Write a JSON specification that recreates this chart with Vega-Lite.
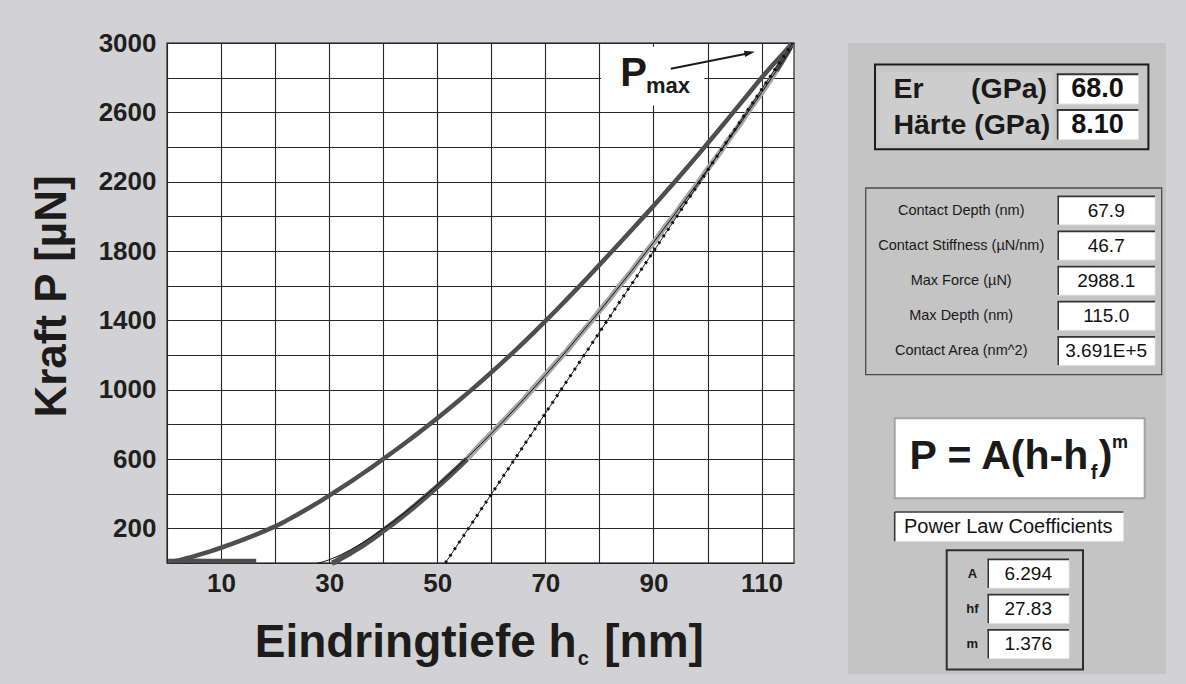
{
  "$schema": "https://vega.github.io/schema/vega-lite/v6.json",
  "background": "#d2d1d4",
  "padding": {"left": 29, "top": 29, "right": 20, "bottom": 10},
  "bounds": "flush",
  "spacing": 54,
  "config": {"font": "Liberation Sans", "view": {"stroke": null}},
  "datasets": {
    "loading": [
      {"h": 1.5, "P": 10}, {"h": 2, "P": 14}, {"h": 4, "P": 30}, {"h": 6, "P": 48}, {"h": 8, "P": 67},
      {"h": 10, "P": 88}, {"h": 12, "P": 110}, {"h": 14, "P": 133}, {"h": 16, "P": 158}, {"h": 18, "P": 184},
      {"h": 20, "P": 211}, {"h": 22, "P": 243}, {"h": 24, "P": 277}, {"h": 26, "P": 313}, {"h": 28, "P": 350},
      {"h": 30, "P": 389}, {"h": 32, "P": 429}, {"h": 34, "P": 470}, {"h": 36, "P": 512}, {"h": 38, "P": 555},
      {"h": 40, "P": 600}, {"h": 42, "P": 645}, {"h": 44, "P": 691}, {"h": 46, "P": 738}, {"h": 48, "P": 786},
      {"h": 50, "P": 835}, {"h": 52, "P": 885}, {"h": 54, "P": 937}, {"h": 56, "P": 990}, {"h": 58, "P": 1044},
      {"h": 60, "P": 1100}, {"h": 62, "P": 1156}, {"h": 64, "P": 1214}, {"h": 66, "P": 1273}, {"h": 68, "P": 1334},
      {"h": 70, "P": 1395}, {"h": 72, "P": 1458}, {"h": 74, "P": 1522}, {"h": 76, "P": 1587}, {"h": 78, "P": 1653},
      {"h": 80, "P": 1720}, {"h": 82, "P": 1787}, {"h": 84, "P": 1855}, {"h": 86, "P": 1923}, {"h": 88, "P": 1991},
      {"h": 90, "P": 2060}, {"h": 92, "P": 2130}, {"h": 94, "P": 2201}, {"h": 96, "P": 2273}, {"h": 98, "P": 2346},
      {"h": 100, "P": 2420}, {"h": 102, "P": 2495}, {"h": 104, "P": 2571}, {"h": 106, "P": 2647}, {"h": 108, "P": 2723},
      {"h": 110, "P": 2800}, {"h": 112, "P": 2872}, {"h": 114, "P": 2940}, {"h": 115.6, "P": 2996}
    ],
    "hold": [
      {"h": 0.2, "P": 12}, {"h": 4, "P": 13}, {"h": 8, "P": 12}, {"h": 12, "P": 12}, {"h": 16.5, "P": 12}
    ],
    "unloading": [
      {"seg": "below", "h": 30.5, "P": 0}, {"seg": "below", "h": 31, "P": 5}, {"seg": "below", "h": 32, "P": 24},
      {"seg": "below", "h": 34, "P": 59}, {"seg": "below", "h": 36, "P": 97}, {"seg": "below", "h": 38, "P": 140},
      {"seg": "below", "h": 40, "P": 186}, {"seg": "below", "h": 42, "P": 232}, {"seg": "below", "h": 44, "P": 281},
      {"seg": "below", "h": 46, "P": 332}, {"seg": "below", "h": 48, "P": 386}, {"seg": "below", "h": 50, "P": 440},
      {"seg": "below", "h": 52, "P": 497}, {"seg": "below", "h": 54, "P": 555}, {"seg": "below", "h": 55.5, "P": 600},
      {"seg": "fitted", "h": 55.5, "P": 600}, {"seg": "fitted", "h": 56, "P": 617}, {"seg": "fitted", "h": 58, "P": 684},
      {"seg": "fitted", "h": 60, "P": 748}, {"seg": "fitted", "h": 62, "P": 812}, {"seg": "fitted", "h": 64, "P": 878},
      {"seg": "fitted", "h": 66, "P": 944}, {"seg": "fitted", "h": 68, "P": 1016}, {"seg": "fitted", "h": 70, "P": 1085},
      {"seg": "fitted", "h": 72, "P": 1157}, {"seg": "fitted", "h": 74, "P": 1226}, {"seg": "fitted", "h": 76, "P": 1303},
      {"seg": "fitted", "h": 78, "P": 1375}, {"seg": "fitted", "h": 80, "P": 1454}, {"seg": "fitted", "h": 82, "P": 1528},
      {"seg": "fitted", "h": 84, "P": 1610}, {"seg": "fitted", "h": 86, "P": 1686}, {"seg": "fitted", "h": 88, "P": 1770},
      {"seg": "fitted", "h": 90, "P": 1847}, {"seg": "fitted", "h": 92, "P": 1934}, {"seg": "fitted", "h": 94, "P": 2013},
      {"seg": "fitted", "h": 96, "P": 2101}, {"seg": "fitted", "h": 98, "P": 2182}, {"seg": "fitted", "h": 100, "P": 2272},
      {"seg": "fitted", "h": 102, "P": 2356}, {"seg": "fitted", "h": 104, "P": 2447}, {"seg": "fitted", "h": 106, "P": 2532},
      {"seg": "fitted", "h": 108, "P": 2626}, {"seg": "fitted", "h": 110, "P": 2712}, {"seg": "fitted", "h": 112, "P": 2806},
      {"seg": "fitted", "h": 112.7, "P": 2840},
      {"seg": "above", "h": 112.7, "P": 2840}, {"seg": "above", "h": 114, "P": 2905}, {"seg": "above", "h": 115, "P": 2958},
      {"seg": "above", "h": 115.6, "P": 2994}
    ],
    "fit": [
      {"h": 27.83, "P": 0}, {"h": 28, "P": 0.6}, {"h": 29, "P": 7.8}, {"h": 30, "P": 18.3}, {"h": 32, "P": 44.9},
      {"h": 34, "P": 77}, {"h": 36, "P": 113.3}, {"h": 38, "P": 153.1}, {"h": 40, "P": 196}, {"h": 42, "P": 241.7},
      {"h": 44, "P": 289.8}, {"h": 46, "P": 340.3}, {"h": 48, "P": 392.9}, {"h": 50, "P": 447.4}, {"h": 52, "P": 503.8},
      {"h": 54, "P": 562.1}, {"h": 56, "P": 622}, {"h": 58, "P": 683.6}, {"h": 60, "P": 747}, {"h": 62, "P": 811},
      {"h": 64, "P": 877}, {"h": 66, "P": 945}, {"h": 68, "P": 1014}, {"h": 70, "P": 1084}, {"h": 72, "P": 1155},
      {"h": 74, "P": 1227}, {"h": 76, "P": 1302}, {"h": 78, "P": 1377}, {"h": 80, "P": 1452}, {"h": 82, "P": 1530},
      {"h": 84, "P": 1608}, {"h": 86, "P": 1687}, {"h": 88, "P": 1768}, {"h": 90, "P": 1849}, {"h": 92, "P": 1932},
      {"h": 94, "P": 2015}, {"h": 96, "P": 2099}, {"h": 98, "P": 2184}, {"h": 100, "P": 2270}, {"h": 102, "P": 2358},
      {"h": 104, "P": 2445}, {"h": 106, "P": 2534}, {"h": 108, "P": 2624}, {"h": 110, "P": 2714}, {"h": 112, "P": 2805},
      {"h": 114, "P": 2897}, {"h": 115.7, "P": 2976}
    ],
    "tangent": [
      {"h": 51.5, "P": 0}, {"h": 115.7, "P": 2998}
    ],
    "moduli": [
      {"name": "Er\u00a0\u00a0\u00a0\u00a0\u00a0\u00a0(GPa)", "row": "Er", "value": "68.0"},
      {"name": "Härte (GPa)", "row": "Härte", "value": "8.10"}
    ],
    "contact": [
      {"label": "Contact Depth (nm)", "value": "67.9"},
      {"label": "Contact Stiffness (µN/nm)", "value": "46.7"},
      {"label": "Max Force (µN)", "value": "2988.1"},
      {"label": "Max Depth (nm)", "value": "115.0"},
      {"label": "Contact Area (nm^2)", "value": "3.691E+5"}
    ],
    "coeffs": [
      {"label": "A", "value": "6.294"},
      {"label": "hf", "value": "27.83"},
      {"label": "m", "value": "1.376"}
    ]
  },
  "hconcat": [
    {
      "width": 627,
      "height": 520,
      "view": {"fill": "white", "stroke": "#505050", "strokeWidth": 1.5},
      "resolve": {"axis": {"x": "independent", "y": "independent"}},
      "layer": [
        {
          "encoding": {
            "x": {
              "field": "h", "type": "quantitative",
              "scale": {"domain": [0, 116], "nice": false, "zero": false},
              "axis": {
                "values": [0, 10, 20, 30, 40, 50, 60, 70, 80, 90, 100, 110],
                "labelExpr": "datum.value % 20 == 10 ? datum.label : ''",
                "title": null, "grid": true, "gridColor": "#262626", "gridWidth": 1.1,
                "ticks": false, "domain": false, "labelFontSize": 26, "labelFontWeight": "bold",
                "labelColor": "#1f1f1f", "labelPadding": 7, "labelFlush": false, "labelOverlap": false
              }
            },
            "y": {
              "field": "P", "type": "quantitative",
              "scale": {"domain": [0, 3000], "nice": false},
              "axis": {
                "values": [0, 200, 400, 600, 800, 1000, 1200, 1400, 1600, 1800, 2000, 2200, 2400, 2600, 2800, 3000],
                "format": "d",
                "labelExpr": "datum.value % 400 == 200 ? datum.label : ''",
                "title": "Kraft P [µN]", "titleFontSize": 44, "titleFontWeight": "bold", "titleColor": "#1c1c1c",
                "titlePadding": 24, "titleY": 253,
                "grid": true, "gridColor": "#262626", "gridWidth": 1.1,
                "ticks": false, "domain": false, "labelFontSize": 26, "labelFontWeight": "bold",
                "labelColor": "#1f1f1f", "labelPadding": 11, "labelFlush": false, "labelOverlap": false
              }
            }
          },
          "layer": [
            {"data": {"name": "hold"}, "mark": {"type": "line", "color": "#4e4e4e", "strokeWidth": 4.5}},
            {"data": {"name": "loading"}, "mark": {"type": "line", "color": "#4e4e4e", "strokeWidth": 4.5, "strokeJoin": "round"}},
            {
              "data": {"name": "unloading"},
              "mark": {"type": "line", "strokeWidth": 5.5, "strokeJoin": "round"},
              "encoding": {
                "color": {
                  "field": "seg", "type": "nominal",
                  "scale": {"domain": ["below", "fitted", "above"], "range": ["#505050", "#a4a4a4", "#5a5a5a"]},
                  "legend": null
                }
              }
            },
            {"data": {"name": "fit"}, "mark": {"type": "line", "color": "#111111", "strokeWidth": 1}},
            {"data": {"name": "tangent"}, "mark": {"type": "line", "color": "#222222", "strokeWidth": 1}},
            {"data": {"name": "tangent"}, "mark": {"type": "line", "color": "#111111", "strokeWidth": 3, "strokeDash": [2.5, 5.5], "strokeCap": "butt"}}
          ]
        },
        {
          "data": {"values": [{}]},
          "layer": [
            {
              "mark": {"type": "rect", "color": "white"},
              "encoding": {
                "x": {"datum": 80.3, "axis": null}, "x2": {"datum": 99.4},
                "y": {"datum": 2640, "axis": null}, "y2": {"datum": 2978}
              }
            },
            {
              "mark": {"type": "rule", "color": "#1a1a1a", "strokeWidth": 2},
              "encoding": {
                "x": {"datum": 93.2, "axis": null}, "y": {"datum": 2852, "axis": null},
                "x2": {"datum": 107.4}, "y2": {"datum": 2940}
              }
            },
            {
              "mark": {"type": "point", "shape": "M-1,-0.6L1,0L-1,0.6Z", "filled": true, "color": "#1a1a1a", "size": 110, "angle": -11.3, "opacity": 1},
              "encoding": {"x": {"datum": 107.8, "axis": null}, "y": {"datum": 2943, "axis": null}}
            },
            {
              "mark": {"type": "text", "fontSize": 40, "fontWeight": "bold", "align": "left", "baseline": "alphabetic", "color": "#1a1a1a"},
              "encoding": {"x": {"datum": 83.85, "axis": null}, "y": {"datum": 2750, "axis": null}, "text": {"value": "P"}}
            },
            {
              "mark": {"type": "text", "fontSize": 22, "fontWeight": "bold", "align": "left", "baseline": "alphabetic", "color": "#1a1a1a"},
              "encoding": {"x": {"datum": 88.6, "axis": null}, "y": {"datum": 2712, "axis": null}, "text": {"value": "max"}}
            },
            {
              "mark": {"type": "text", "fontSize": 46, "fontWeight": "bold", "align": "right", "baseline": "alphabetic", "color": "#1c1c1c"},
              "encoding": {"x": {"datum": 75.8, "axis": null}, "y": {"datum": -540, "axis": null}, "text": {"value": "Eindringtiefe h"}}
            },
            {
              "mark": {"type": "text", "fontSize": 20, "fontWeight": "bold", "align": "left", "baseline": "alphabetic", "color": "#1c1c1c"},
              "encoding": {"x": {"datum": 76.0, "axis": null}, "y": {"datum": -588, "axis": null}, "text": {"value": "c"}}
            },
            {
              "mark": {"type": "text", "fontSize": 46, "fontWeight": "bold", "align": "left", "baseline": "alphabetic", "color": "#1c1c1c"},
              "encoding": {"x": {"datum": 80.9, "axis": null}, "y": {"datum": -540, "axis": null}, "text": {"value": "[nm]"}}
            }
          ]
        }
      ]
    },
    {
      "width": 318,
      "height": 631,
      "view": {"fill": "#c4c4c4", "stroke": null},
      "resolve": {"scale": {"y": "independent"}},
      "layer": [
        {
          "data": {"values": [{}]},
          "layer": [
            {
              "mark": {"type": "rect", "fill": "#c6c6c6", "stroke": "#1c1c1c", "strokeWidth": 2},
              "encoding": {
                "x": {"datum": 27, "scale": {"domain": [0, 318], "nice": false, "zero": false}, "axis": null}, "x2": {"datum": 300.4},
                "y": {"datum": 21.6, "scale": {"domain": [0, 631], "nice": false, "zero": false, "reverse": true}, "axis": null}, "y2": {"datum": 106.3}
              }
            },
            {
              "mark": {"type": "rect", "fill": "#cdcdcd"},
              "encoding": {"x": {"datum": 31, "axis": null}, "x2": {"datum": 205}, "y": {"datum": 29, "axis": null}, "y2": {"datum": 101.3}}
            },
            {
              "mark": {"type": "rect", "fillOpacity": 0, "stroke": "#4a4a4a", "strokeWidth": 1.3},
              "encoding": {"x": {"datum": 17.7, "axis": null}, "x2": {"datum": 313.7}, "y": {"datum": 145, "axis": null}, "y2": {"datum": 331.6}}
            },
            {
              "mark": {"type": "rect", "fill": "white", "stroke": "#a3a3a3", "strokeWidth": 2},
              "encoding": {"x": {"datum": 46.7, "axis": null}, "x2": {"datum": 296.7}, "y": {"datum": 375.3, "axis": null}, "y2": {"datum": 455.3}}
            },
            {
              "mark": {"type": "rect", "fill": "white", "stroke": "#e4e4e4", "strokeWidth": 1},
              "encoding": {"x": {"datum": 46.7, "axis": null}, "x2": {"datum": 275.4}, "y": {"datum": 469, "axis": null}, "y2": {"datum": 498.3}}
            },
            {
              "mark": {"type": "rule", "color": "#3a3a3a", "strokeWidth": 1.6},
              "encoding": {"x": {"datum": 46.7, "axis": null}, "x2": {"datum": 275.4}, "y": {"datum": 469, "axis": null}}
            },
            {
              "mark": {"type": "rule", "color": "#3a3a3a", "strokeWidth": 1.6},
              "encoding": {"x": {"datum": 46.7, "axis": null}, "y": {"datum": 469, "axis": null}, "y2": {"datum": 498.3}}
            },
            {
              "mark": {"type": "rect", "fillOpacity": 0, "stroke": "#2e2e2e", "strokeWidth": 2},
              "encoding": {"x": {"datum": 98.7, "axis": null}, "x2": {"datum": 235}, "y": {"datum": 507.3, "axis": null}, "y2": {"datum": 626.6}}
            },
            {
              "mark": {"type": "text", "fontSize": 41, "fontWeight": "bold", "align": "left", "baseline": "alphabetic", "color": "#1a1a1a"},
              "encoding": {"x": {"datum": 61.4, "axis": null}, "y": {"datum": 426.3, "axis": null}, "text": {"value": "P = A(h-h"}}
            },
            {
              "mark": {"type": "text", "fontSize": 20, "fontWeight": "bold", "align": "left", "baseline": "alphabetic", "color": "#1a1a1a"},
              "encoding": {"x": {"datum": 242.7, "axis": null}, "y": {"datum": 436.3, "axis": null}, "text": {"value": "f"}}
            },
            {
              "mark": {"type": "text", "fontSize": 41, "fontWeight": "bold", "align": "left", "baseline": "alphabetic", "color": "#1a1a1a"},
              "encoding": {"x": {"datum": 250.7, "axis": null}, "y": {"datum": 426.3, "axis": null}, "text": {"value": ")"}}
            },
            {
              "mark": {"type": "text", "fontSize": 18, "fontWeight": "bold", "align": "left", "baseline": "alphabetic", "color": "#1a1a1a"},
              "encoding": {"x": {"datum": 264, "axis": null}, "y": {"datum": 404.6, "axis": null}, "text": {"value": "m"}}
            },
            {
              "mark": {"type": "text", "fontSize": 20, "align": "left", "baseline": "middle", "color": "#111111"},
              "encoding": {"x": {"datum": 56, "axis": null}, "y": {"datum": 483.7, "axis": null}, "text": {"value": "Power Law Coefficients"}}
            }
          ]
        },
        {
          "data": {"name": "moduli"},
          "encoding": {
            "y": {
              "field": "row", "type": "nominal", "sort": null, "axis": null,
              "scale": {"type": "band", "range": [31.3, 96.6], "paddingInner": 0.167, "paddingOuter": 0}
            }
          },
          "layer": [
            {
              "mark": {"type": "rect", "fill": "white", "stroke": "#e4e4e4", "strokeWidth": 1},
              "encoding": {"x": {"datum": 208.7, "axis": null}, "x2": {"datum": 290.4}}
            },
            {
              "mark": {"type": "rect", "fill": "#333333"},
              "encoding": {"x": {"datum": 208.7, "axis": null}, "x2": {"datum": 210.5}}
            },
            {
              "mark": {"type": "rule", "color": "#333333", "strokeWidth": 2},
              "encoding": {
                "x": {"datum": 208.7, "axis": null}, "x2": {"datum": 290.4},
                "y": {"field": "row", "type": "nominal", "sort": null, "axis": null, "bandPosition": 0}
              }
            },
            {
              "mark": {"type": "text", "fontSize": 28.5, "fontWeight": "bold", "align": "left", "baseline": "middle", "color": "#1a1a1a"},
              "encoding": {"x": {"datum": 45.4, "axis": null}, "text": {"field": "name"}}
            },
            {
              "mark": {"type": "text", "fontSize": 27, "fontWeight": "bold", "align": "center", "baseline": "middle", "color": "#111111"},
              "encoding": {"x": {"datum": 249.5, "axis": null}, "text": {"field": "value"}}
            }
          ]
        },
        {
          "data": {"name": "contact"},
          "encoding": {
            "y": {
              "field": "label", "type": "nominal", "sort": null, "axis": null,
              "scale": {"type": "band", "range": [153.3, 322.3], "paddingInner": 0.188, "paddingOuter": 0}
            }
          },
          "layer": [
            {
              "mark": {"type": "rect", "fill": "white", "stroke": "#e4e4e4", "strokeWidth": 1},
              "encoding": {"x": {"datum": 209.4, "axis": null}, "x2": {"datum": 307}}
            },
            {
              "mark": {"type": "rect", "fill": "#333333"},
              "encoding": {"x": {"datum": 209.4, "axis": null}, "x2": {"datum": 211}}
            },
            {
              "mark": {"type": "rule", "color": "#333333", "strokeWidth": 1.8},
              "encoding": {
                "x": {"datum": 209.4, "axis": null}, "x2": {"datum": 307},
                "y": {"field": "label", "type": "nominal", "sort": null, "axis": null, "bandPosition": 0}
              }
            },
            {
              "mark": {"type": "text", "fontSize": 14.5, "align": "center", "baseline": "middle", "color": "#1a1a1a"},
              "encoding": {"x": {"datum": 113.2, "axis": null}, "text": {"field": "label"}}
            },
            {
              "mark": {"type": "text", "fontSize": 19, "align": "center", "baseline": "middle", "color": "#111111"},
              "encoding": {"x": {"datum": 258.2, "axis": null}, "text": {"field": "value"}}
            }
          ]
        },
        {
          "data": {"name": "coeffs"},
          "encoding": {
            "y": {
              "field": "label", "type": "nominal", "sort": null, "axis": null,
              "scale": {"type": "band", "range": [516.3, 615.6], "paddingInner": 0.183, "paddingOuter": 0}
            }
          },
          "layer": [
            {
              "mark": {"type": "rect", "fill": "white", "stroke": "#e4e4e4", "strokeWidth": 1},
              "encoding": {"x": {"datum": 139.4, "axis": null}, "x2": {"datum": 221}}
            },
            {
              "mark": {"type": "rect", "fill": "#333333"},
              "encoding": {"x": {"datum": 139.4, "axis": null}, "x2": {"datum": 141}}
            },
            {
              "mark": {"type": "rule", "color": "#333333", "strokeWidth": 1.8},
              "encoding": {
                "x": {"datum": 139.4, "axis": null}, "x2": {"datum": 221},
                "y": {"field": "label", "type": "nominal", "sort": null, "axis": null, "bandPosition": 0}
              }
            },
            {
              "mark": {"type": "text", "fontSize": 13, "fontWeight": "bold", "align": "center", "baseline": "middle", "color": "#1a1a1a"},
              "encoding": {"x": {"datum": 124.4, "axis": null}, "text": {"field": "label"}}
            },
            {
              "mark": {"type": "text", "fontSize": 19, "align": "center", "baseline": "middle", "color": "#111111"},
              "encoding": {"x": {"datum": 180.2, "axis": null}, "text": {"field": "value"}}
            }
          ]
        }
      ]
    }
  ]
}
